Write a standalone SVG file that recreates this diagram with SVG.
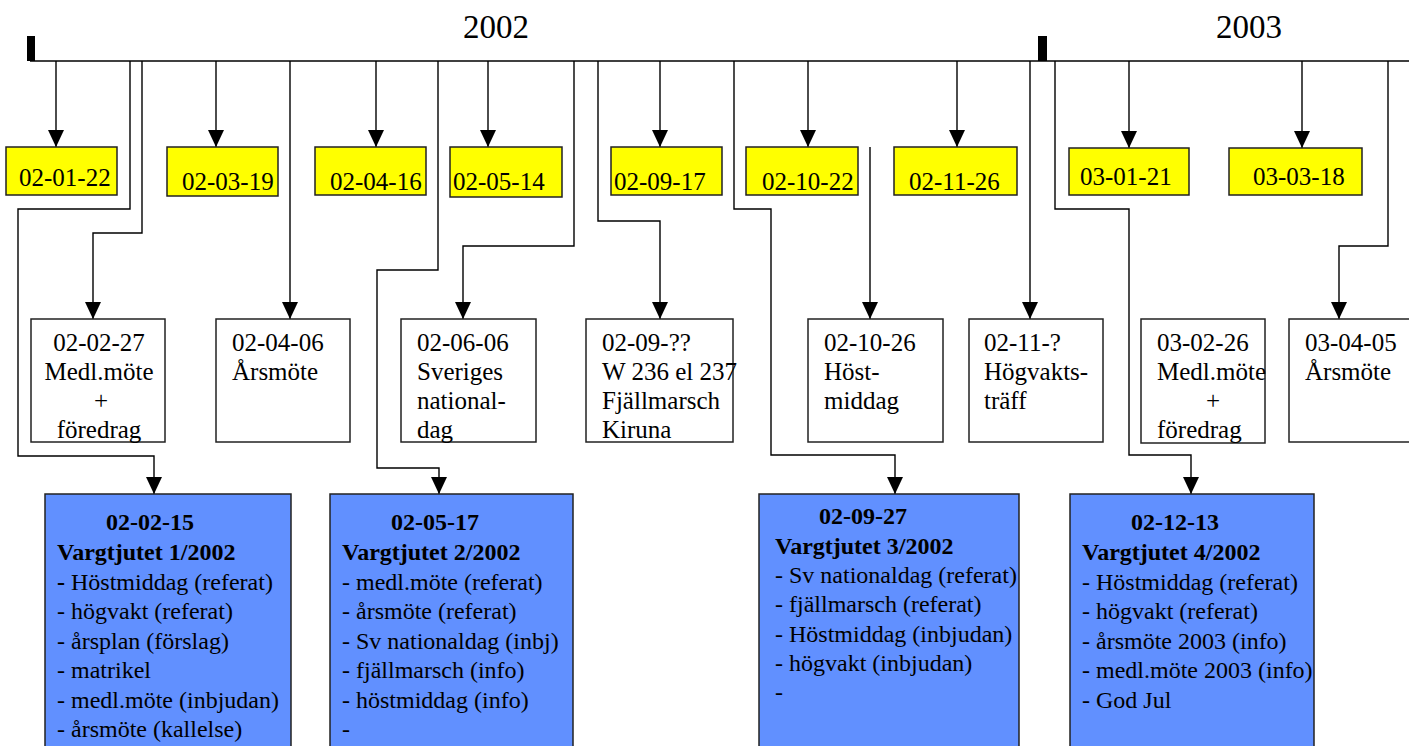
<svg xmlns="http://www.w3.org/2000/svg" width="1409" height="746" viewBox="0 0 1409 746">
<style>
text{font-family:"Liberation Serif","Times New Roman",serif;fill:#000}
.yr{font-size:33px}
.d{font-size:25px}
.b{font-size:24px}
.bb{font-size:24px;font-weight:bold}
.y{fill:#FFFF00;stroke:#222;stroke-width:1.5}
.w{fill:#FFFFFF;stroke:#222;stroke-width:1.5}
.bl{fill:#6190FF;stroke:#222;stroke-width:1.5}
.c{fill:none;stroke:#000;stroke-width:1.4}
.a{marker-end:url(#arr)}
</style>
<defs>
<marker id="arr" markerUnits="userSpaceOnUse" markerWidth="17" markerHeight="16" viewBox="0 0 17 16" refX="17" refY="8" orient="auto">
<path d="M0,0 L17,8 L0,16 z" fill="#000"/>
</marker>
</defs>
<rect width="1409" height="746" fill="#fff"/>

<g id="timeline">
<line x1="30" y1="61" x2="1409" y2="61" stroke="#000" stroke-width="1.5"/>
<rect x="27" y="36" width="8" height="25" fill="#000"/>
<rect x="1038" y="36" width="9" height="25" fill="#000"/>
<text class="yr" x="463" y="38">2002</text>
<text class="yr" x="1216" y="38">2003</text>
</g>

<g id="connectors">
<path class="c a" d="M56,61 V147"/>
<path class="c a" d="M216,61 V147"/>
<path class="c a" d="M376,61 V147"/>
<path class="c a" d="M488,61 V147"/>
<path class="c a" d="M660,61 V147"/>
<path class="c a" d="M808,61 V147"/>
<path class="c a" d="M957,61 V147"/>
<path class="c a" d="M1129,61 V148"/>
<path class="c a" d="M1302,61 V148"/>
<path class="c a" d="M130,61 V209 H18 V456 H154 V494"/>
<path class="c a" d="M142,61 V233 H93 V319"/>
<path class="c a" d="M290,61 V319"/>
<path class="c a" d="M438,61 V270 H377 V468 H439 V494"/>
<path class="c a" d="M574,61 V246 H463 V319"/>
<path class="c a" d="M598,61 V221 H660 V319"/>
<path class="c a" d="M734,61 V209 H771 V455 H895 V494"/>
<path class="c a" d="M870,147 V319"/>
<path class="c a" d="M1030,61 V319"/>
<path class="c a" d="M1055,61 V209 H1129 V455 H1191 V494"/>
<path class="c a" d="M1388,61 V246 H1339 V319"/>
</g>

<g id="y1"><rect class="y" x="6" y="147" width="111" height="48"/><text class="d" x="19" y="186">02-01-22</text></g>
<g id="y2"><rect class="y" x="167" y="147" width="111" height="49"/><text class="d" x="182" y="190">02-03-19</text></g>
<g id="y3"><rect class="y" x="315" y="147" width="111" height="48"/><text class="d" x="330" y="190">02-04-16</text></g>
<g id="y4"><rect class="y" x="450" y="147" width="112" height="50"/><text class="d" x="453" y="190">02-05-14</text></g>
<g id="y5"><rect class="y" x="611" y="147" width="111" height="48"/><text class="d" x="614" y="190">02-09-17</text></g>
<g id="y6"><rect class="y" x="746" y="147" width="112" height="48"/><text class="d" x="762" y="190">02-10-22</text></g>
<g id="y7"><rect class="y" x="894" y="147" width="123" height="48"/><text class="d" x="909" y="190">02-11-26</text></g>
<g id="y8"><rect class="y" x="1069" y="148" width="120" height="47"/><text class="d" x="1080" y="185">03-01-21</text></g>
<g id="y9"><rect class="y" x="1229" y="148" width="133" height="47"/><text class="d" x="1253" y="185">03-03-18</text></g>

<g id="w1"><rect class="w" x="31" y="319" width="134" height="123"/>
<text class="d" text-anchor="middle" x="99" y="351">02-02-27</text>
<text class="d" text-anchor="middle" x="99" y="380">Medl.möte</text>
<text class="d" text-anchor="middle" x="101" y="409">+</text>
<text class="d" text-anchor="middle" x="99" y="438">föredrag</text></g>
<g id="w2"><rect class="w" x="216" y="319" width="134" height="123"/>
<text class="d" x="232" y="351">02-04-06</text>
<text class="d" x="232" y="380">Årsmöte</text></g>
<g id="w3"><rect class="w" x="401" y="319" width="135" height="123"/>
<text class="d" x="417" y="351">02-06-06</text>
<text class="d" x="417" y="380">Sveriges</text>
<text class="d" x="417" y="409">national-</text>
<text class="d" x="417" y="438">dag</text></g>
<g id="w4"><rect class="w" x="586" y="319" width="147" height="123"/>
<text class="d" x="602" y="351">02-09-??</text>
<text class="d" x="602" y="380">W 236 el 237</text>
<text class="d" x="602" y="409">Fjällmarsch</text>
<text class="d" x="602" y="438">Kiruna</text></g>
<g id="w5"><rect class="w" x="808" y="319" width="135" height="123"/>
<text class="d" x="824" y="351">02-10-26</text>
<text class="d" x="824" y="380">Höst-</text>
<text class="d" x="824" y="409">middag</text></g>
<g id="w6"><rect class="w" x="969" y="319" width="134" height="123"/>
<text class="d" x="984" y="351">02-11-?</text>
<text class="d" x="984" y="380">Högvakts-</text>
<text class="d" x="984" y="409">träff</text></g>
<g id="w7"><rect class="w" x="1141" y="319" width="124" height="124"/>
<text class="d" x="1157" y="351">03-02-26</text>
<text class="d" x="1157" y="380">Medl.möte</text>
<text class="d" text-anchor="middle" x="1213" y="409">+</text>
<text class="d" x="1157" y="438">föredrag</text></g>
<g id="w8"><rect class="w" x="1289" y="319" width="140" height="123"/>
<text class="d" x="1305" y="351">03-04-05</text>
<text class="d" x="1305" y="380">Årsmöte</text></g>

<g id="b1"><rect class="bl" x="45" y="494" width="246" height="270"/>
<text class="bb" x="106" y="530">02-02-15</text>
<text class="bb" x="57" y="560">Vargtjutet 1/2002</text>
<text class="b" x="57" y="590"><tspan font-weight="bold">-</tspan> Höstmiddag (referat)</text>
<text class="b" x="57" y="619">- högvakt (referat)</text>
<text class="b" x="57" y="649">- årsplan (förslag)</text>
<text class="b" x="57" y="678">- matrikel</text>
<text class="b" x="57" y="708">- medl.möte (inbjudan)</text>
<text class="b" x="57" y="737">- årsmöte (kallelse)</text></g>
<g id="b2"><rect class="bl" x="330" y="494" width="243" height="270"/>
<text class="bb" x="391" y="530">02-05-17</text>
<text class="bb" x="342" y="560">Vargtjutet 2/2002</text>
<text class="b" x="342" y="590">- medl.möte (referat)</text>
<text class="b" x="342" y="619">- årsmöte (referat)</text>
<text class="b" x="342" y="649">- Sv nationaldag (inbj)</text>
<text class="b" x="342" y="678">- fjällmarsch (info)</text>
<text class="b" x="342" y="708">- höstmiddag (info)</text>
<text class="b" x="342" y="737">-</text></g>
<g id="b3"><rect class="bl" x="759" y="494" width="260" height="270"/>
<text class="bb" x="819" y="524">02-09-27</text>
<text class="bb" x="775" y="554">Vargtjutet 3/2002</text>
<text class="b" x="775" y="583">- Sv nationaldag (referat)</text>
<text class="b" x="775" y="612">- fjällmarsch (referat)</text>
<text class="b" x="775" y="642">- Höstmiddag (inbjudan)</text>
<text class="b" x="775" y="671">- högvakt (inbjudan)</text>
<text class="b" x="775" y="700">-</text></g>
<g id="b4"><rect class="bl" x="1070" y="494" width="244" height="270"/>
<text class="bb" x="1131" y="530">02-12-13</text>
<text class="bb" x="1082" y="560">Vargtjutet 4/2002</text>
<text class="b" x="1082" y="590">- Höstmiddag (referat)</text>
<text class="b" x="1082" y="619">- högvakt (referat)</text>
<text class="b" x="1082" y="649">- årsmöte 2003 (info)</text>
<text class="b" x="1082" y="678">- medl.möte 2003 (info)</text>
<text class="b" x="1082" y="708">- God Jul</text></g>
</svg>
